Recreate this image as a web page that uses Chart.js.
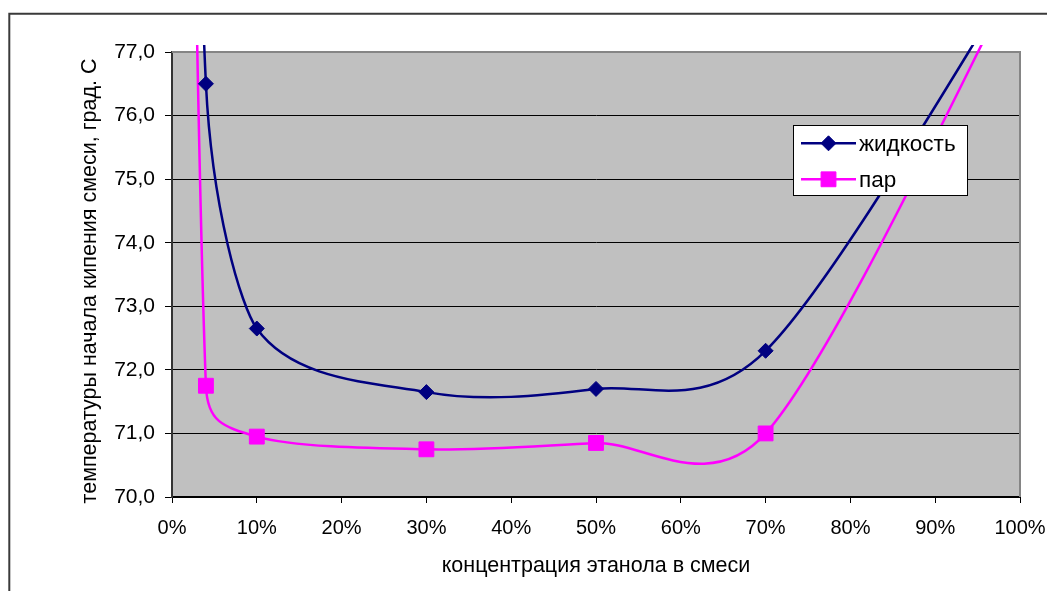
<!DOCTYPE html>
<html>
<head>
<meta charset="utf-8">
<script src="https://cdn.jsdelivr.net/npm/chart.js@4.4.0/dist/chart.umd.min.js"></script>
<style>
  html, body { margin: 0; padding: 0; background: #fff; overflow: hidden; }
  #wrap { width: 1047px; height: 591px; position: relative; }
</style>
</head>
<body>
<div id="wrap"><canvas id="chart" width="1047" height="591"></canvas></div>
<script>
// Ethanol concentration in the mixture, %
const concentration = [0, 4, 10, 30, 50, 70, 100];
// Boiling onset temperature, °C
const liquidTemp = [100, 76.5, 72.65, 71.65, 71.7, 72.3, 78.3];
const vaporTemp = [105, 71.75, 70.95, 70.75, 70.85, 71.0, 78.3];
const seriesNames = ['жидкость', 'пар'];
const xTitle = 'концентрация этанола в смеси';
const yTitle = 'температуры начала кипения смеси, град. С';
const xTickValues = [0, 10, 20, 30, 40, 50, 60, 70, 80, 90, 100];
const yTickValues = [70, 71, 72, 73, 74, 75, 76, 77];

const FONT = '"Liberation Sans", Arial, sans-serif';
Chart.defaults.font.family = FONT;
Chart.defaults.color = '#000';

const toPoints = (ys) => concentration.map((x, i) => ({ x, y: ys[i] }));

// Spreadsheet-style smoothing: Bezier handles are 1/6 of the neighbour chord,
// shortened to half the segment length when the chord is long.
const smoothCurve = {
  id: 'smoothCurve',
  beforeDatasetDraw(chart, args) {
    const meta = args.meta;
    const pts = meta.data;
    meta.dataset.updateControlPoints(chart.chartArea, 'x');
    const n = pts.length;
    const dist = (a, b) => Math.hypot(b.x - a.x, b.y - a.y);
    for (let i = 0; i < n - 1; i++) {
      const p0 = pts[Math.max(i - 1, 0)];
      const p1 = pts[i];
      const p2 = pts[i + 1];
      const p3 = pts[Math.min(i + 2, n - 1)];
      const d02 = dist(p0, p2), d12 = dist(p1, p2), d13 = dist(p1, p3);
      let f1 = 1 / 6, f2 = 1 / 6;
      const long02 = d02 / 6 >= d12 / 2;
      const long13 = d13 / 6 >= d12 / 2;
      if (long02 && long13) { f1 = d12 / (2 * d02); f2 = d12 / (2 * d13); }
      else if (long02) { f1 = f2 = d12 / (2 * d02); }
      else if (long13) { f1 = f2 = d12 / (2 * d13); }
      p1.cp2x = p1.x + (p2.x - p0.x) * f1;
      p1.cp2y = p1.y + (p2.y - p0.y) * f1;
      p2.cp1x = p2.x - (p3.x - p1.x) * f2;
      p2.cp1y = p2.y - (p3.y - p1.y) * f2;
    }
  }
};

// Frame, grey plot background, plot border, the vertical axis title and the boxed legend
const decor = {
  id: 'decor',
  beforeDraw(chart) {
    const { ctx, chartArea: a } = chart;
    ctx.save();
    ctx.fillStyle = '#fff';
    ctx.fillRect(0, 0, chart.width, chart.height);
    ctx.strokeStyle = '#3a3a3a';
    ctx.lineWidth = 2;
    ctx.beginPath();
    ctx.moveTo(9.3, chart.height + 5);
    ctx.lineTo(9.3, 13.7);
    ctx.lineTo(chart.width + 5, 13.7);
    ctx.stroke();
    ctx.fillStyle = '#c0c0c0';
    ctx.fillRect(a.left, a.top, a.right - a.left, a.bottom - a.top);
    ctx.restore();
  },
  beforeDatasetsDraw(chart) {
    const { ctx, chartArea: a } = chart;
    ctx.save();
    ctx.strokeStyle = '#858585';
    ctx.lineWidth = 2;
    ctx.beginPath();
    ctx.moveTo(a.left, a.top);
    ctx.lineTo(a.right, a.top);
    ctx.lineTo(a.right, a.bottom);
    ctx.stroke();
    ctx.restore();
  },
  afterDatasetsDraw(chart) {
    const { ctx } = chart;
    const box = { x: 793.5, y: 125.5, w: 174, h: 70 };
    ctx.save();
    ctx.fillStyle = '#fff';
    ctx.fillRect(box.x, box.y, box.w, box.h);
    ctx.strokeStyle = '#000';
    ctx.lineWidth = 1;
    ctx.strokeRect(box.x, box.y, box.w, box.h);
    const rows = [143.3, 179.3];
    chart.data.datasets.forEach((ds, i) => {
      const y = rows[i];
      ctx.strokeStyle = ds.borderColor;
      ctx.lineWidth = ds.borderWidth;
      ctx.beginPath();
      ctx.moveTo(801, y);
      ctx.lineTo(856, y);
      ctx.stroke();
      ctx.fillStyle = ds.pointBackgroundColor;
      ctx.strokeStyle = ds.pointBorderColor;
      ctx.lineWidth = 1;
      Chart.helpers.drawPoint(ctx, {
        pointStyle: ds.pointStyle, radius: ds.pointRadius, rotation: 0, borderWidth: 1
      }, 828.5, y);
      ctx.fillStyle = '#000';
      ctx.font = '22.5px ' + FONT;
      ctx.textAlign = 'left';
      ctx.textBaseline = 'middle';
      ctx.fillText(ds.label, 859, y + 1);
    });
    ctx.restore();
  },
  afterDraw(chart) {
    const { ctx } = chart;
    ctx.save();
    ctx.translate(90, 281);
    ctx.rotate(-Math.PI / 2);
    ctx.fillStyle = '#000';
    ctx.font = '21.5px ' + FONT;
    ctx.textAlign = 'center';
    ctx.textBaseline = 'middle';
    ctx.fillText(yTitle, 0, 0);
    ctx.restore();
  }
};

const lineClip = { left: 0, top: 7, right: 0, bottom: 0 };

new Chart(document.getElementById('chart'), {
  type: 'line',
  data: {
    datasets: [
      {
        label: seriesNames[0],
        data: toPoints(liquidTemp),
        borderColor: '#000080',
        backgroundColor: '#000080',
        pointBackgroundColor: '#000080',
        pointBorderColor: '#000080',
        borderWidth: 2.5,
        pointStyle: 'rectRot',
        pointRadius: 7.5,
        pointBorderWidth: 1,
        tension: 0.3,
        clip: lineClip
      },
      {
        label: seriesNames[1],
        data: toPoints(vaporTemp),
        borderColor: '#ff00ff',
        backgroundColor: '#ff00ff',
        pointBackgroundColor: '#ff00ff',
        pointBorderColor: '#ff00ff',
        borderWidth: 2.5,
        pointStyle: 'rect',
        pointRadius: 10.5,
        pointBorderWidth: 1,
        tension: 0.3,
        clip: lineClip
      }
    ]
  },
  options: {
    responsive: false,
    animation: false,
    devicePixelRatio: 1,
    events: [],
    layout: { padding: { left: 0, top: 52, right: 27, bottom: 0 } },
    elements: { line: { capBezierPoints: false, fill: false } },
    plugins: { legend: { display: false }, tooltip: { enabled: false } },
    scales: {
      x: {
        type: 'linear',
        min: 0,
        max: 100,
        afterFit(scale) { scale.height = 94; scale.paddingLeft = 0; scale.paddingRight = 0; },
        afterBuildTicks(scale) { scale.ticks = xTickValues.map(v => ({ value: v })); },
        ticks: {
          font: { size: 20 },
          color: '#000',
          padding: 13,
          maxRotation: 0,
          callback: (v) => v + '%'
        },
        grid: { display: true, drawOnChartArea: false, drawTicks: true, tickLength: 6, color: '#000', lineWidth: 1 },
        border: { display: true, color: '#000', width: 2 },
        title: { display: true, text: xTitle, font: { size: 21.5 }, color: '#000', padding: { top: 0, bottom: 12 } }
      },
      y: {
        type: 'linear',
        min: 70,
        max: 77,
        afterFit(scale) { scale.width = 172; },
        afterBuildTicks(scale) { scale.ticks = yTickValues.map(v => ({ value: v })); },
        ticks: {
          font: { size: 21 },
          color: '#000',
          padding: 10,
          callback: (v) => v.toFixed(1).replace('.', ',')
        },
        grid: { color: '#000', lineWidth: 1, drawTicks: true, tickLength: 7 },
        border: { display: true, color: '#333', width: 2 },
        title: { display: false }
      }
    }
  },
  plugins: [smoothCurve, decor]
});
</script>
</body>
</html>
